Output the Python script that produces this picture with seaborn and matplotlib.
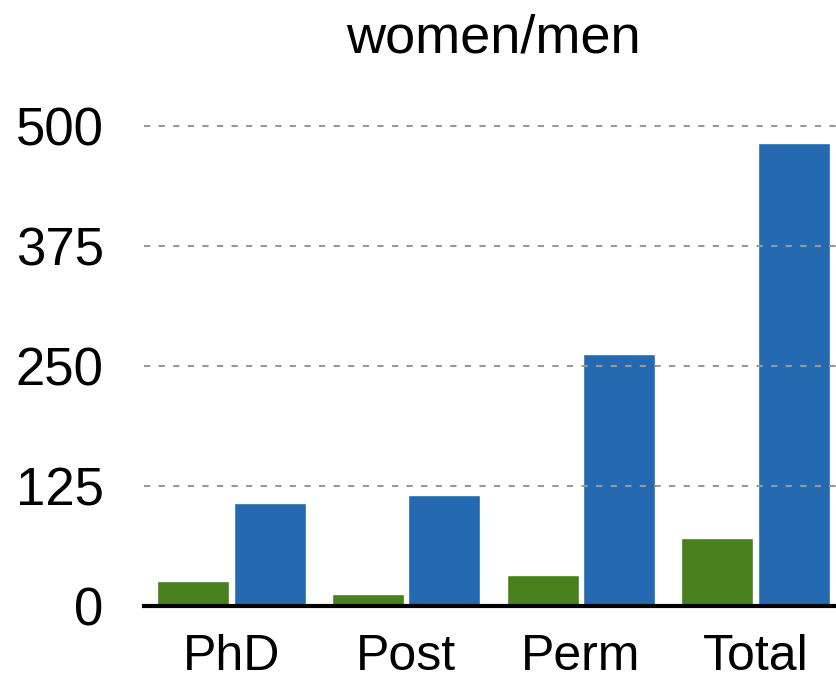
import numpy as np
import pandas as pd
import matplotlib
matplotlib.use("Agg")
import matplotlib.pyplot as plt
import seaborn as sns

# values
categories = ["PhD", "Post", "Perm", "Total"]
women = [26, 12, 32, 71]
men = [107, 116, 262, 482]
series_names = ["women", "men"]
yticks = [0, 125, 250, 375, 500]

df = pd.DataFrame({
    "group": categories * 2,
    "value": women + men,
    "who": [series_names[0]] * len(categories) + [series_names[1]] * len(categories),
})

sns.set_theme(style="white")
plt.rcParams['font.family'] = ['Liberation Sans', 'DejaVu Sans']

fig = plt.figure(figsize=(8.37, 6.86), dpi=100)
ax = fig.add_axes([144 / 837, 80 / 686, 699 / 837, 490 / 686])

sns.barplot(data=df, x="group", y="value", hue="who", order=categories,
            hue_order=series_names, palette=["#47801c", "#2569b1"],
            width=0.875, gap=0.06, saturation=1, ax=ax, legend=False,
            errorbar=None)

ax.set_xlim(-0.5, 3.5)
ax.set_ylim(0, 510)
ax.set_yticks(yticks)
ax.set_yticklabels([str(t) for t in yticks])
ax.yaxis.grid(True, linestyle=(0, (3, 4)), color="#999999", linewidth=1.5)
ax.set_axisbelow(False)
ax.xaxis.grid(False)

for s in ["left", "right", "top"]:
    ax.spines[s].set_visible(False)
ax.spines["bottom"].set_color("black")
ax.spines["bottom"].set_linewidth(3)
ax.spines["bottom"].set_zorder(5)

ax.tick_params(axis="y", length=0, pad=29, labelsize=38, colors="black")
ax.tick_params(axis="x", length=0, pad=20, labelsize=36, colors="black")
ax.set_xlabel("")
ax.set_ylabel("")
ax.set_title("women/men", fontsize=39, pad=46, color="black")

fig.savefig("out.png", dpi=100)
